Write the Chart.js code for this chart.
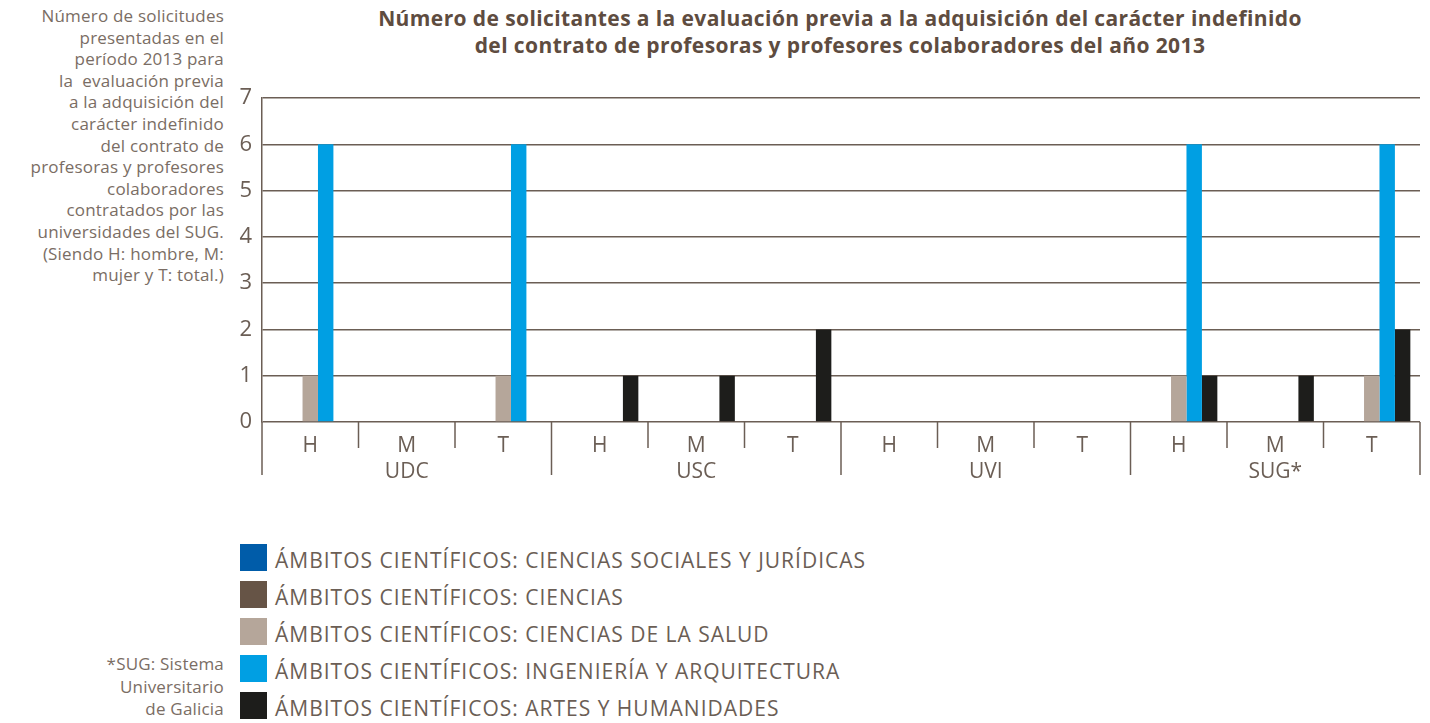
<!DOCTYPE html>
<html>
<head>
<meta charset="utf-8">
<script src="https://cdn.jsdelivr.net/npm/chart.js@4.4.0/dist/chart.umd.min.js"></script>
<style>
  body { margin: 0; background: #fff; width: 1430px; height: 723px; overflow: hidden; position: relative; font-family: "Open Sans", sans-serif; }
  #wrap { position: absolute; left: 0; top: 0; width: 1430px; height: 723px; }
  .note { position: absolute; right: 1206px; text-align: right; color: #7a6d64; font-size: 17px; line-height: 21.6px; letter-spacing: 0.2px; }
  #title { position: absolute; left: 240px; width: 1200px; top: 5px; text-align: center; color: #5e4c40; font-weight: bold; font-size: 21px; line-height: 27px; letter-spacing: 0.4px; }
  #legend { position: absolute; left: 240px; top: 544px; }
  .item { height: 37px; display: flex; align-items: flex-start; color: #6b5e55; font-size: 21px; letter-spacing: 1px; }
  .item span { position: relative; top: 3px; line-height: 27px; }
  .box { width: 27px; height: 27px; margin-right: 8px; }
</style>
</head>
<body>
<div id="title">Número de solicitantes a la evaluación previa a la adquisición del carácter indefinido<br>del contrato de profesoras y profesores colaboradores del año 2013</div>
<div class="note" style="top:5px">Número de solicitudes<br>presentadas en el<br>período 2013 para<br>la&nbsp; evaluación previa<br>a la adquisición del<br>carácter indefinido<br>del contrato de<br>profesoras y profesores<br>colaboradores<br>contratados por las<br>universidades del SUG.<br>(Siendo H: hombre, M:<br>mujer y T: total.)</div>
<div class="note" style="top:653px; line-height: 22.5px">*SUG: Sistema<br>Universitario<br>de Galicia</div>
<div id="legend"></div>
<div id="wrap"><canvas id="myChart" width="1430" height="723"></canvas></div>
<script>
const sexos = ['H', 'M', 'T'];
const universidades = ['UDC', 'USC', 'UVI', 'SUG*'];
const labels = [];
for (const u of universidades) {
    for (const s of sexos) labels.push(s);
}

// orden: UDC H,M,T | USC H,M,T | UVI H,M,T | SUG H,M,T
const socialesJuridicas = [0, 0, 0, 0, 0, 0, 0, 0, 0, 0, 0, 0];
const ciencias          = [0, 0, 0, 0, 0, 0, 0, 0, 0, 0, 0, 0];
const salud             = [1, 0, 1, 0, 0, 0, 0, 0, 0, 1, 0, 1];
const ingenieria        = [6, 0, 6, 0, 0, 0, 0, 0, 0, 6, 0, 6];
const artes             = [0, 0, 0, 1, 1, 2, 0, 0, 0, 1, 1, 2];

const yTicks = [0, 1, 2, 3, 4, 5, 6, 7];

const lineColor = '#6b5e55';
const textColor = '#6b5e55';

const datasets = [
    {label: 'ÁMBITOS CIENTÍFICOS: CIENCIAS SOCIALES Y JURÍDICAS', data: socialesJuridicas, backgroundColor: '#005ca9'},
    {label: 'ÁMBITOS CIENTÍFICOS: CIENCIAS', data: ciencias, backgroundColor: '#665446'},
    {label: 'ÁMBITOS CIENTÍFICOS: CIENCIAS DE LA SALUD', data: salud, backgroundColor: '#b5a69a'},
    {label: 'ÁMBITOS CIENTÍFICOS: INGENIERÍA Y ARQUITECTURA', data: ingenieria, backgroundColor: '#009fe3'},
    {label: 'ÁMBITOS CIENTÍFICOS: ARTES Y HUMANIDADES', data: artes, backgroundColor: '#1d1d1b'}
];

// marcas del eje x y nombres de universidad
const groupAxis = {
    id: 'groupAxis',
    afterDraw(chart) {
        const c = chart.ctx;
        const x = chart.scales.x;
        const area = chart.chartArea;
        const n = labels.length;
        c.save();
        c.strokeStyle = lineColor;
        c.lineWidth = 1.5;
        for (let i = 0; i <= n; i++) {
            let px;
            if (i === 0) px = area.left;
            else if (i === n) px = area.right;
            else px = (x.getPixelForValue(i - 1) + x.getPixelForValue(i)) / 2;
            const len = (i % 3 === 0) ? 53 : 26;
            c.beginPath();
            c.moveTo(px, area.bottom);
            c.lineTo(px, area.bottom + len);
            c.stroke();
        }
        c.fillStyle = textColor;
        c.font = '21px "Open Sans"';
        c.textAlign = 'center';
        c.textBaseline = 'middle';
        universidades.forEach((u, g) => {
            const cx = (x.getPixelForValue(g * 3) + x.getPixelForValue(g * 3 + 2)) / 2;
            c.fillText(u, cx, area.bottom + 50);
        });
        c.restore();
    }
};

const ctx = document.getElementById('myChart').getContext('2d');
const myChart = new Chart(ctx, {
    type: 'bar',
    data: {labels: labels, datasets: datasets},
    options: {
        responsive: false,
        animation: false,
        layout: {padding: {top: 98, right: 10, left: 0, bottom: 0}},
        datasets: {bar: {barPercentage: 1.0, categoryPercentage: 0.8}},
        plugins: {legend: {display: false}, title: {display: false}, tooltip: {enabled: false}},
        scales: {
            x: {
                grid: {display: false},
                border: {display: false},
                ticks: {color: textColor, font: {family: 'Open Sans', size: 21}, padding: 3, maxRotation: 0},
                afterFit(scale) { scale.height = 301; }
            },
            y: {
                min: 0,
                max: 7,
                afterBuildTicks(scale) { scale.ticks = yTicks.map(v => ({value: v})); },
                grid: {color: lineColor, lineWidth: 1.5, drawTicks: false},
                border: {color: lineColor, width: 1.5},
                ticks: {color: textColor, font: {family: 'Open Sans', size: 22}, padding: 10},
                afterFit(scale) { scale.width = 262; }
            }
        }
    },
    plugins: [groupAxis]
});

// leyenda en html a partir de los datasets
const legendDiv = document.getElementById('legend');
for (const ds of myChart.data.datasets) {
    const item = document.createElement('div');
    item.className = 'item';
    item.innerHTML = `<div class="box" style="background:${ds.backgroundColor}"></div><span>${ds.label}</span>`;
    legendDiv.appendChild(item);
}
</script>
</body>
</html>
